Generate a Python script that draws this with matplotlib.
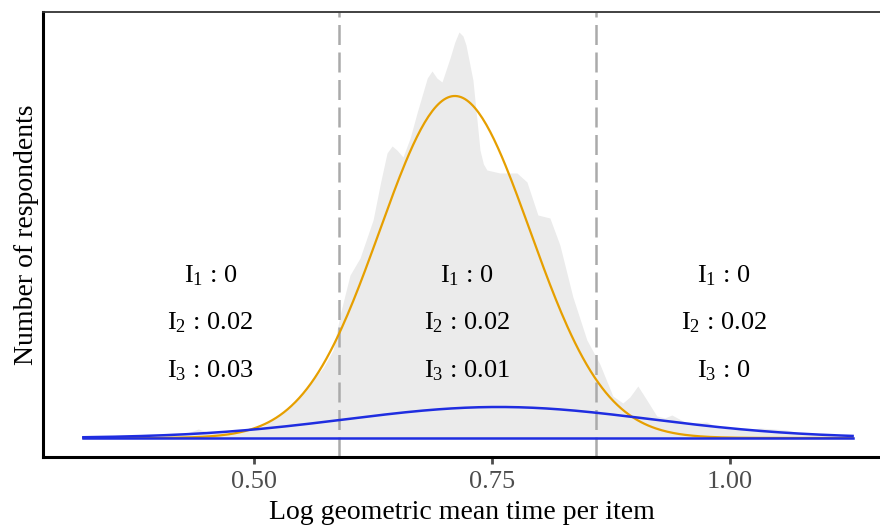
import matplotlib
matplotlib.use("Agg")
import matplotlib.pyplot as plt
import numpy as np

plt.rcParams['font.family'] = ['Liberation Serif', 'DejaVu Serif']
plt.rcParams['mathtext.fontset'] = 'custom'
plt.rcParams['mathtext.rm'] = 'Liberation Serif'
plt.rcParams['mathtext.it'] = 'Liberation Serif:italic'

dens_x = [0.3204, 0.4013, 0.4296, 0.4412, 0.4538, 0.4779, 0.5063, 0.5221, 0.5410,
          0.5588, 0.5725, 0.5830, 0.5903, 0.6008, 0.6113, 0.6250, 0.6330, 0.6397,
          0.6450, 0.6500, 0.6565, 0.6640, 0.6712, 0.6820, 0.6870, 0.6920, 0.6975,
          0.7059, 0.7110, 0.7153, 0.7195, 0.7227, 0.7300, 0.7374, 0.7410, 0.7447,
          0.7584, 0.7763, 0.7868, 0.7983, 0.8109, 0.8214, 0.8351, 0.8498, 0.8634,
          0.8771, 0.8876, 0.8950, 0.9034, 0.9128, 0.9233, 0.9317, 0.9391, 0.9548,
          0.9758, 0.9895, 1.0179, 1.0315, 1.0599, 1.0735, 1.1187, 1.1292]
dens_y = [0.25, 0.25, 1.25, 2.25, 1.25, 1.25, 2.5, 5.0, 8.25,
          13.75, 17.5, 22.0, 30.75, 40.75, 45.0, 54.5, 64.0, 71.25,
          73.0, 72.0, 70.25, 75.0, 81.25, 90.0, 91.75, 90.0, 89.0,
          95.0, 99.0, 101.5, 100.5, 98.25, 89.5, 72.0, 68.5, 67.0,
          66.25, 66.25, 64.0, 55.75, 55.0, 48.25, 35.25, 24.5, 18.5,
          10.5, 8.75, 10.25, 13.0, 9.5, 5.5, 5.0, 5.75, 3.75,
          4.0, 2.5, 2.0, 2.5, 2.0, 1.25, 0.25, 0.0]

# mixture components: mean, sd, peak height
comp_mean = [0.711, 0.757, 0.757]
comp_sd = [0.079, 0.16, 0.16]
comp_peak = [85.5, 7.75, 0.0]
comp_color = ['#E69F00', '#1F2DE0', '#1F2DE0']

cutoffs = [0.589, 0.859]
x_range = (0.3204, 1.1292)

label_x = [0.454, 0.724, 0.994]
label_y = [40.5, 28.75, 16.75]
index_vals = [['0', '0.02', '0.03'],
              ['0', '0.02', '0.01'],
              ['0', '0.02', '0']]

fig = plt.figure(figsize=(8.8, 5.26), dpi=100)
ax = fig.add_axes([0.0489, 0.1312, 0.9511, 0.8460])

ax.fill_between(dens_x, 0, dens_y, color='#ebebeb', lw=0, zorder=1)

for c in cutoffs:
    ax.axvline(c, color='#aaaaaa', lw=1.8, dashes=(8, 3), zorder=2)

xs = np.linspace(x_range[0], x_range[1], 400)
for m, s, h, col in zip(comp_mean, comp_sd, comp_peak, comp_color):
    ax.plot(xs, h * np.exp(-0.5 * ((xs - m) / s) ** 2), color=col,
            lw=1.6 if col == '#E69F00' else 1.8, zorder=3)

for lx, vals in zip(label_x, index_vals):
    for i, (ly, v) in enumerate(zip(label_y, vals)):
        ax.text(lx, ly, r'$\mathrm{I}_{%d}$ : %s' % (i + 1, v), ha='center',
                va='center', fontsize=19, color='black', zorder=4)

ax.set_xlim(0.278, 1.158)
ax.set_ylim(-4.75, 106.5)
ax.set_xticks([0.50, 0.75, 1.00])
ax.set_xticklabels(['0.50', '0.75', '1.00'])
ax.set_yticks([])
ax.tick_params(axis='x', colors='#4d4d4d', labelsize=19, length=5, width=2, pad=5)

ax.spines['right'].set_visible(False)
ax.spines['left'].set_linewidth(2.2)
ax.spines['bottom'].set_linewidth(2.2)
ax.spines['left'].set_color('black')
ax.spines['bottom'].set_color('black')
ax.spines['top'].set_linewidth(1.3)
ax.spines['top'].set_color('#333333')

ax.set_xlabel('Log geometric mean time per item', fontsize=20, labelpad=5)
ax.set_ylabel('Number of respondents', fontsize=20, labelpad=3)

fig.savefig('out.png', dpi=100)
